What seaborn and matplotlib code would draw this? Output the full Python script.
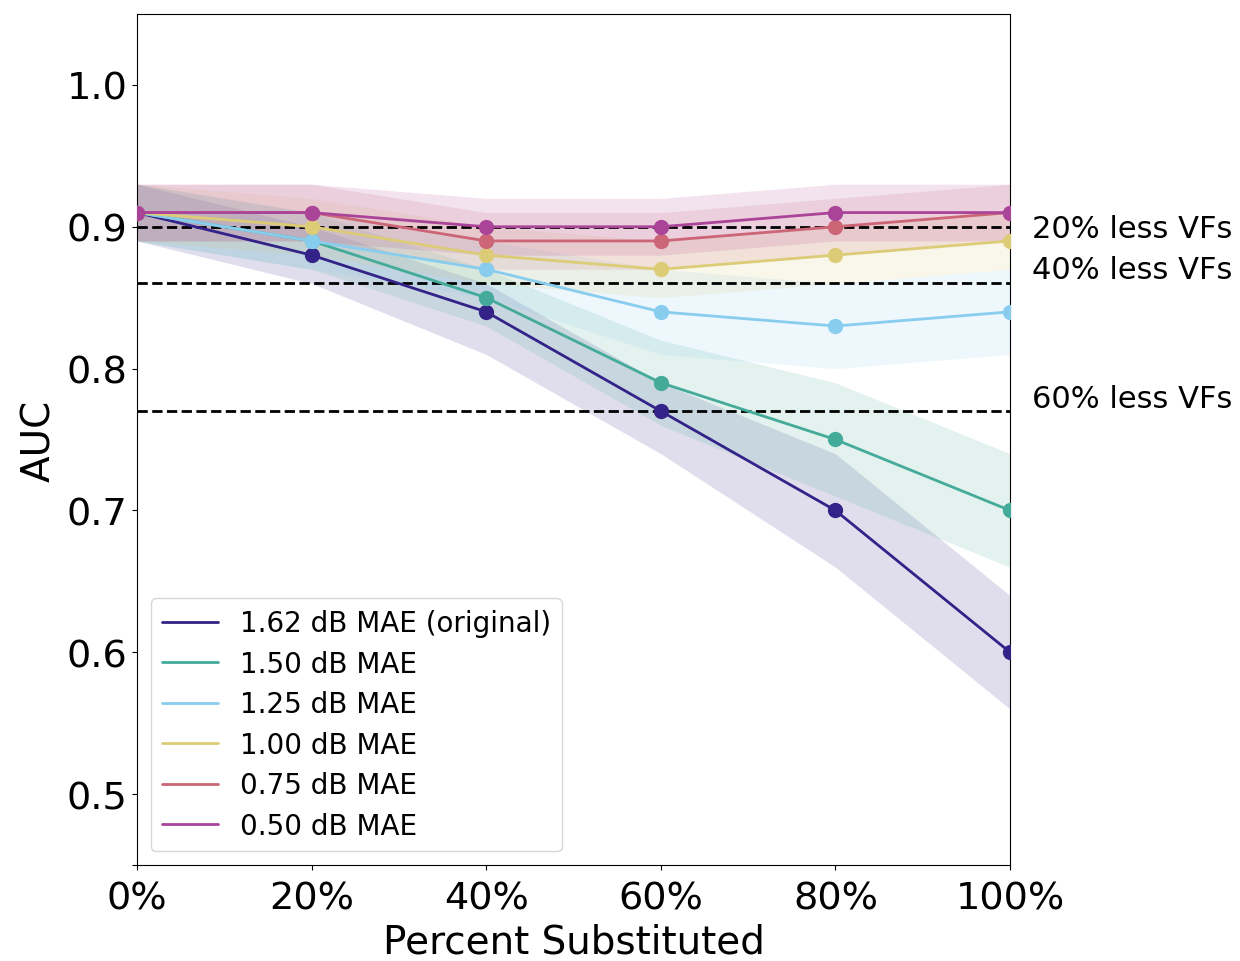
import numpy as np
import pandas as pd
import matplotlib
matplotlib.use("Agg")
import matplotlib.pyplot as plt
from matplotlib.lines import Line2D
import seaborn as sns

# data
percent = [0, 20, 40, 60, 80, 100]
xtick_labels = ["0%", "20%", "40%", "60%", "80%", "100%"]
yticks = [0.45, 0.5, 0.6, 0.7, 0.8, 0.9, 1.0]
ytick_labels = ["", "0.5", "0.6", "0.7", "0.8", "0.9", "1.0"]
series_names = ["1.62 dB MAE (original)", "1.50 dB MAE", "1.25 dB MAE",
                "1.00 dB MAE", "0.75 dB MAE", "0.50 dB MAE"]

auc_162 = [0.91, 0.88, 0.84, 0.77, 0.70, 0.60]
auc_150 = [0.91, 0.89, 0.85, 0.79, 0.75, 0.70]
auc_125 = [0.91, 0.89, 0.87, 0.84, 0.83, 0.84]
auc_100 = [0.91, 0.90, 0.88, 0.87, 0.88, 0.89]
auc_075 = [0.91, 0.91, 0.89, 0.89, 0.90, 0.91]
auc_050 = [0.91, 0.91, 0.90, 0.90, 0.91, 0.91]

low_162 = [0.89, 0.86, 0.81, 0.74, 0.66, 0.56]
high_162 = [0.93, 0.90, 0.86, 0.79, 0.74, 0.64]
low_150 = [0.89, 0.87, 0.83, 0.76, 0.71, 0.66]
high_150 = [0.93, 0.91, 0.87, 0.82, 0.79, 0.74]
low_125 = [0.89, 0.87, 0.85, 0.81, 0.80, 0.81]
high_125 = [0.93, 0.91, 0.89, 0.87, 0.86, 0.87]
low_100 = [0.89, 0.88, 0.86, 0.85, 0.86, 0.87]
high_100 = [0.93, 0.92, 0.90, 0.89, 0.90, 0.91]
low_075 = [0.89, 0.89, 0.87, 0.87, 0.88, 0.89]
high_075 = [0.93, 0.93, 0.91, 0.91, 0.92, 0.93]
low_050 = [0.89, 0.89, 0.88, 0.88, 0.89, 0.89]
high_050 = [0.93, 0.93, 0.92, 0.92, 0.93, 0.93]

ref_levels = [0.90, 0.86, 0.77]
ref_labels = ["20% less VFs", "40% less VFs", "60% less VFs"]
ref_label_y = [0.899, 0.870, 0.779]

colors = ["#332288", "#44AA99", "#88CCEE", "#DDCC77", "#CC6677", "#AA4499"]

means = [auc_162, auc_150, auc_125, auc_100, auc_075, auc_050]
lows = [low_162, low_150, low_125, low_100, low_075, low_050]
highs = [high_162, high_150, high_125, high_100, high_075, high_050]

rows = []
for name, vals in zip(series_names, means):
    for p, v in zip(percent, vals):
        rows.append({"percent": p, "auc": v, "model": name})
df = pd.DataFrame(rows)

sns.set_style("ticks")
plt.rcParams["text.color"] = "black"
plt.rcParams["axes.labelcolor"] = "black"
plt.rcParams["xtick.color"] = "black"
plt.rcParams["ytick.color"] = "black"
plt.rcParams["axes.edgecolor"] = "black"

fig = plt.figure(figsize=(12.4, 9.62), dpi=100)
ax = fig.add_axes([0.1105, 0.0998, 0.704, 0.8846])

# shaded bands
for c, lo, hi in zip(colors, lows, highs):
    ax.fill_between(percent, lo, hi, color=c, alpha=0.15, linewidth=0)

for lvl in ref_levels:
    ax.axhline(lvl, color="black", linestyle="--", linewidth=2, zorder=3)

sns.lineplot(data=df, x="percent", y="auc", hue="model", hue_order=series_names,
             palette=colors, marker="o", markersize=11, markeredgewidth=0,
             linewidth=2, legend=False, ax=ax, zorder=4)

for lbl, y in zip(ref_labels, ref_label_y):
    ax.text(102.5, y, lbl, fontsize=22, va="center", ha="left", clip_on=False)

ax.set_xlim(0, 100)
ax.set_ylim(0.45, 1.05)
ax.set_xticks(percent)
ax.set_xticklabels(xtick_labels)
ax.set_yticks(yticks)
ax.set_yticklabels(ytick_labels)
ax.tick_params(labelsize=27.5)
ax.tick_params(axis="x", pad=8)
ax.set_xlabel("Percent Substituted", fontsize=28, labelpad=4)
ax.set_ylabel("AUC", fontsize=28, labelpad=6)
for s in ax.spines.values():
    s.set_visible(True)

handles = [Line2D([0], [0], color=c, linewidth=2) for c in colors]
ax.legend(handles, series_names, loc="lower left", fontsize=20,
          frameon=True, labelspacing=0.45)

fig.savefig("out.png", dpi=100)
